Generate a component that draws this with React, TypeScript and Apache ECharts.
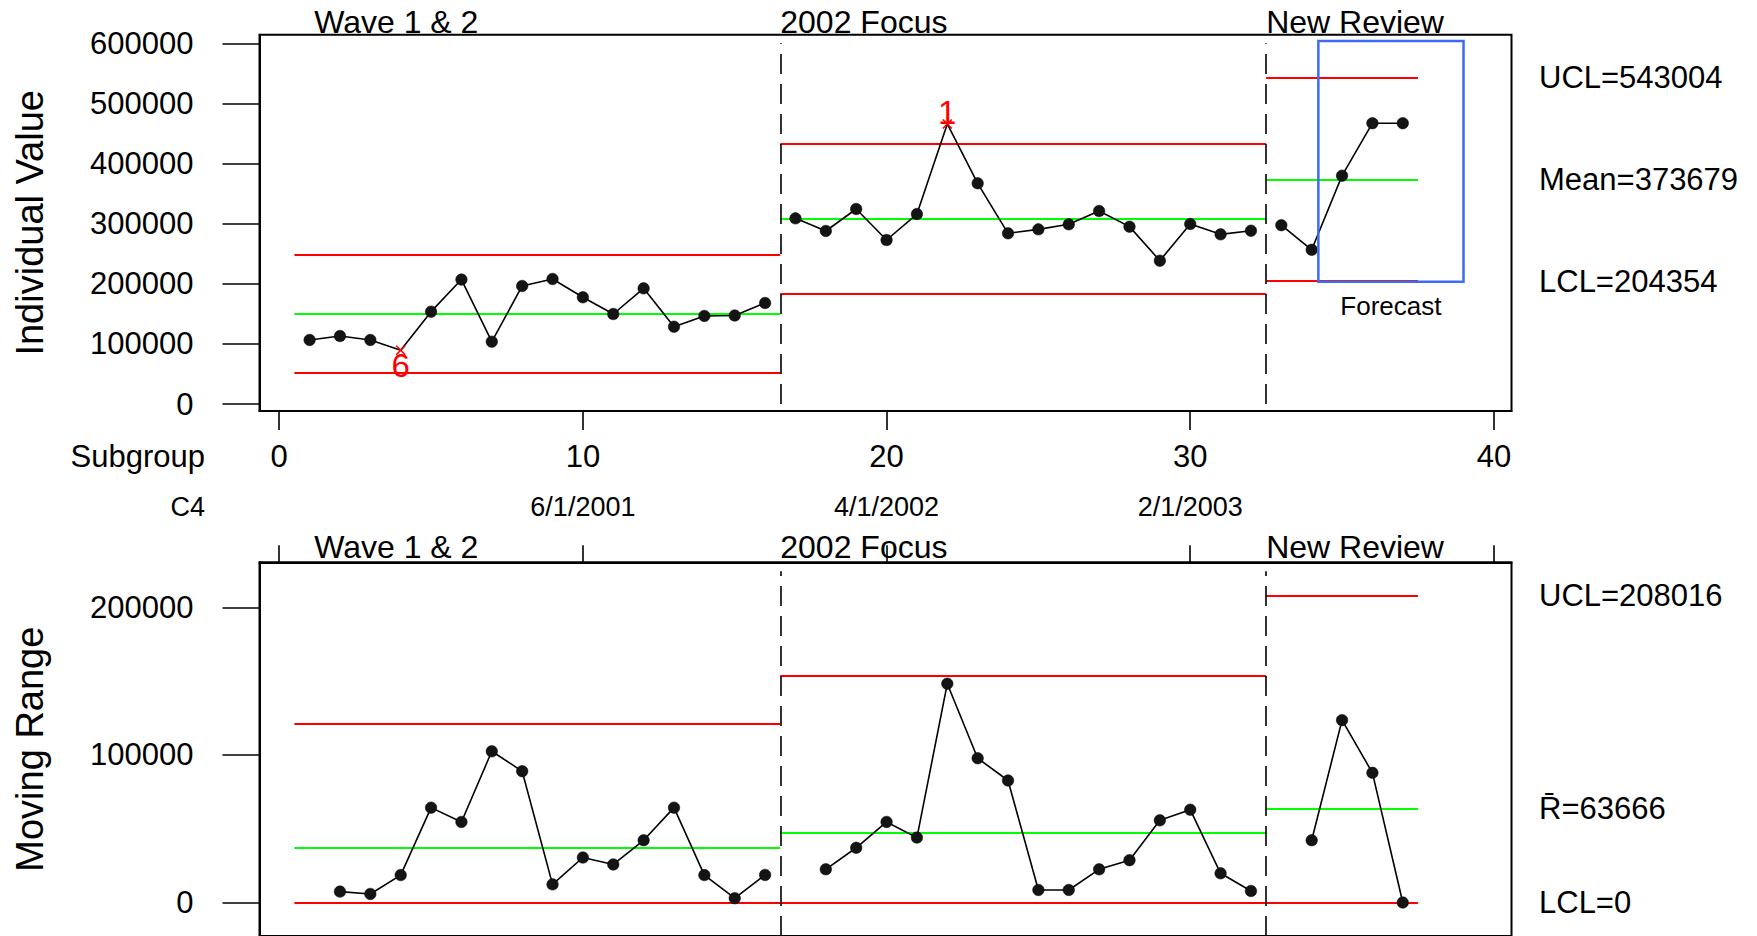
import React, { useEffect, useRef } from 'react';
import * as echarts from 'echarts';

const FONT = '"Liberation Sans", Arial, Helvetica, sans-serif';

// ---------- data ----------
const subgroups = [
  1, 2, 3, 4, 5, 6, 7, 8, 9, 10, 11, 12, 13, 14, 15, 16, 17, 18, 19, 20,
  21, 22, 23, 24, 25, 26, 27, 28, 29, 30, 31, 32, 33, 34, 35, 36, 37,
];

const stageNames = ['Wave 1 & 2', '2002 Focus', 'New Review'];
const stageStart = [1, 17, 33];
const stageEnd = [16, 32, 37];
const stageLabelX = [1.15, 16.5, 32.5];

const individualValues = [
  106500, 113100, 106500, 89500, 153600, 207000, 103700, 196300, 208000, 177500,
  149700, 192400, 128600, 146500, 147200, 168000,
  308800, 287800, 324400, 272800, 316000, 465800, 367100, 283900, 290500, 298900,
  321000, 295000, 238400, 299400, 282200, 288300,
  297500, 256500, 379800, 467100, 467100,
];

const movingRanges: (number | null)[] = [
  null, 7400, 5800, 18600, 64300, 54600, 102500, 89000, 12300, 30500,
  25800, 42200, 64300, 18600, 2900, 18700,
  null, 22500, 37100, 54600, 44000, 148300, 97800, 82700, 8500, 8500,
  22500, 28700, 55700, 62900, 19800, 7800,
  null, 42200, 123600, 87900, 0,
];

const indUCL = [247800, 433600, 543004];
const indMean = [150000, 308800, 373679];
const indLCL = [52100, 184100, 204354];
const mrUCL = [121000, 153500, 208016];
const mrMean = [36900, 47000, 63666];
const mrLCL = [0, 0, 0];

const flaggedSubgroups = [4, 22];
const flaggedTests = ['6', '1'];

const subgroupTicks = [0, 10, 20, 30, 40];
const indTicks = [0, 100000, 200000, 300000, 400000, 500000, 600000];
const mrTicks = [0, 100000, 200000];
const dateTicks = [10, 20, 30];
const dateLabels = ['6/1/2001', '4/1/2002', '2/1/2003'];

const forecastX = [34.22, 39.0];
const forecastY = [203400, 603800];

// ---------- layout ----------
const X_MIN = -0.65;
const X_MAX = 40.58;
const IND_MIN = -11640;
const IND_MAX = 614300;
const MR_MIN = -22700;
const MR_MAX = 230600;

const RED = '#ff0000';
const GREEN = '#00ff00';

function buildSeries() {
  const panels = [
    { values: individualValues as (number | null)[], ucl: indUCL, center: indMean, lcl: indLCL, sep: [0, 600000] },
    { values: movingRanges, ucl: mrUCL, center: mrMean, lcl: mrLCL, sep: [MR_MIN, 224500] },
  ];
  const series: any[] = [];
  panels.forEach((p, pi) => {
    stageNames.forEach((_name, s) => {
      const data: any[] = [];
      subgroups.forEach((g, idx) => {
        if (g < stageStart[s] || g > stageEnd[s]) return;
        const v = p.values[idx];
        if (v === null || v === undefined) return;
        const fi = pi === 0 ? flaggedSubgroups.indexOf(g) : -1;
        if (fi >= 0) {
          data.push({
            value: [g, v],
            symbol: 'path://M0,0L10,10M10,0L0,10',
            symbolSize: 9,
            itemStyle: { color: 'rgba(0,0,0,0)', borderColor: RED, borderWidth: 1.6 },
            label: {
              show: true,
              formatter: flaggedTests[fi],
              position: fi === 0 ? 'bottom' : 'top',
              distance: fi === 0 ? -6 : -10,
              color: RED,
              fontSize: 33,
              fontFamily: FONT,
            },
          });
        } else {
          data.push([g, v]);
        }
      });
      const solid = (color: string) => ({ color, width: 2, type: 'solid' });
      const lines: any[] = [
        [{ coord: [stageStart[s] - 0.5, p.ucl[s]], lineStyle: solid(RED) }, { coord: [stageEnd[s] + 0.5, p.ucl[s]] }],
        [{ coord: [stageStart[s] - 0.5, p.center[s]], lineStyle: solid(GREEN) }, { coord: [stageEnd[s] + 0.5, p.center[s]] }],
        [{ coord: [stageStart[s] - 0.5, p.lcl[s]], lineStyle: solid(RED) }, { coord: [stageEnd[s] + 0.5, p.lcl[s]] }],
      ];
      if (s > 0) {
        lines.push([
          { coord: [stageStart[s] - 0.5, p.sep[0]], lineStyle: { color: '#000', width: 1.6, type: [20, 10] } },
          { coord: [stageStart[s] - 0.5, p.sep[1]] },
        ]);
      }
      const ser: any = {
        type: 'line',
        xAxisIndex: pi === 0 ? 0 : 2,
        yAxisIndex: pi,
        data,
        symbol: 'circle',
        symbolSize: 11.5,
        showAllSymbol: true,
        lineStyle: { color: '#000', width: 1.6 },
        itemStyle: { color: '#141414', borderColor: '#000', borderWidth: 0.5 },
        emphasis: { disabled: true },
        z: 3,
        markLine: {
          silent: true,
          z: 2,
          symbol: ['none', 'none'],
          label: { show: false },
          lineStyle: { type: 'solid' },
          emphasis: { disabled: true },
          data: lines,
        },
      };
      if (pi === 0 && s === 2) {
        ser.markArea = {
          silent: true,
          z: 6,
          itemStyle: { color: 'rgba(0,0,0,0)', borderColor: '#3d6cf3', borderWidth: 2.5 },
          label: {
            show: true,
            position: 'bottom',
            distance: 10,
            formatter: 'Forecast',
            color: '#000',
            fontSize: 26,
            fontFamily: FONT,
          },
          data: [[{ coord: [forecastX[0], forecastY[1]] }, { coord: [forecastX[1], forecastY[0]] }]],
        };
      }
      series.push(ser);
    });
  });
  return series;
}

function buildOption(): any {
  const axisLineStyle = { color: '#000', width: 2 };
  const tickStyle = { color: '#000', width: 1.6 };
  const numFmt = (v: number) => String(v);
  return {
    animation: false,
    backgroundColor: '#fff',
    textStyle: { fontFamily: FONT },
    grid: [
      { left: 259.5, top: 34.7, width: 1252, height: 376.3, show: true, borderColor: '#000', borderWidth: 2 },
      { left: 259.5, top: 562.3, width: 1252, height: 375.7, show: true, borderColor: '#000', borderWidth: 2 },
    ],
    xAxis: [
      {
        gridIndex: 0, type: 'value', min: X_MIN, max: X_MAX, position: 'bottom',
        axisLine: { show: true, onZero: false, lineStyle: axisLineStyle },
        axisTick: { show: true, customValues: subgroupTicks, length: 19, lineStyle: tickStyle },
        axisLabel: { customValues: subgroupTicks, formatter: numFmt, fontSize: 31, color: '#000', margin: 29.5, fontFamily: FONT },
        splitLine: { show: false },
      },
      {
        gridIndex: 0, type: 'value', min: X_MIN, max: X_MAX, position: 'bottom',
        axisLine: { show: false, onZero: false },
        axisTick: { show: false },
        axisLabel: {
          customValues: dateTicks,
          formatter: (v: number) => dateLabels[dateTicks.indexOf(v)] ?? '',
          fontSize: 27, color: '#000', margin: 82, fontFamily: FONT,
        },
        splitLine: { show: false },
      },
      {
        gridIndex: 1, type: 'value', min: X_MIN, max: X_MAX, position: 'top',
        axisLine: { show: true, onZero: false, lineStyle: axisLineStyle },
        axisTick: { show: true, customValues: subgroupTicks, length: 17, lineStyle: tickStyle },
        axisLabel: { show: false },
        splitLine: { show: false },
      },
    ],
    yAxis: [
      {
        gridIndex: 0, type: 'value', min: IND_MIN, max: IND_MAX, position: 'left',
        axisLine: { show: true, onZero: false, lineStyle: axisLineStyle },
        axisTick: { show: true, customValues: indTicks, length: 37, lineStyle: tickStyle },
        axisLabel: { customValues: indTicks, formatter: numFmt, fontSize: 31, color: '#000', margin: 66, fontFamily: FONT },
        splitLine: { show: false },
        name: 'Individual Value', nameLocation: 'middle', nameGap: 211, nameRotate: 90,
        nameTextStyle: { fontSize: 38, color: '#000', fontFamily: FONT },
      },
      {
        gridIndex: 1, type: 'value', min: MR_MIN, max: MR_MAX, position: 'left',
        axisLine: { show: true, onZero: false, lineStyle: axisLineStyle },
        axisTick: { show: true, customValues: mrTicks, length: 37, lineStyle: tickStyle },
        axisLabel: { customValues: mrTicks, formatter: numFmt, fontSize: 31, color: '#000', margin: 66, fontFamily: FONT },
        splitLine: { show: false },
        name: 'Moving Range', nameLocation: 'middle', nameGap: 211, nameRotate: 90,
        nameTextStyle: { fontSize: 38, color: '#000', fontFamily: FONT },
      },
    ],
    series: buildSeries(),
  };
}

export default function App() {
  const ref = useRef<HTMLDivElement>(null);
  useEffect(() => {
    if (!ref.current) return;
    const chart = echarts.init(ref.current, null, { renderer: 'svg' });
    chart.setOption(buildOption());

    const px = (v: number) => chart.convertToPixel({ xAxisIndex: 0 }, v) as number;
    const pyTop = (v: number) => chart.convertToPixel({ yAxisIndex: 0 }, v) as number;
    const pyBot = (v: number) => chart.convertToPixel({ yAxisIndex: 1 }, v) as number;
    const txt = (text: string, x: number, y: number, size: number, align: string) => ({
      type: 'text',
      silent: true,
      style: { text, x, y, fill: '#000', fontSize: size, fontFamily: FONT, align, verticalAlign: 'middle' },
    });

    const gridTop = 34.7;
    const gridBotTop = 562.3;
    const graphics: any[] = [];
    stageNames.forEach((name, s) => {
      graphics.push(txt(name, px(stageLabelX[s]), gridTop - 12.5, 32, 'left'));
      graphics.push(txt(name, px(stageLabelX[s]), gridBotTop - 15, 32, 'left'));
    });
    graphics.push(txt('Subgroup', 205, 456.5, 31, 'right'));
    graphics.push(txt('C4', 205, 507, 27, 'right'));

    const rx = 1539;
    const last = stageNames.length - 1;
    graphics.push(txt(`UCL=${indUCL[last]}`, rx, pyTop(indUCL[last]), 31, 'left'));
    graphics.push(txt(`Mean=${indMean[last]}`, rx, pyTop(indMean[last]), 31, 'left'));
    graphics.push(txt(`LCL=${indLCL[last]}`, rx, pyTop(indLCL[last]), 31, 'left'));
    graphics.push(txt(`UCL=${mrUCL[last]}`, rx, pyBot(mrUCL[last]), 31, 'left'));
    graphics.push(txt(`R\u0304=${mrMean[last]}`, rx, pyBot(mrMean[last]), 31, 'left'));
    graphics.push(txt(`LCL=${mrLCL[last]}`, rx, pyBot(mrLCL[last]), 31, 'left'));

    chart.setOption({ graphic: graphics });
    return () => chart.dispose();
  }, []);
  return (
    <div
      ref={ref}
      style={{ position: 'absolute', left: 0, top: 0, width: 1757, height: 936, background: '#fff' }}
    />
  );
}
